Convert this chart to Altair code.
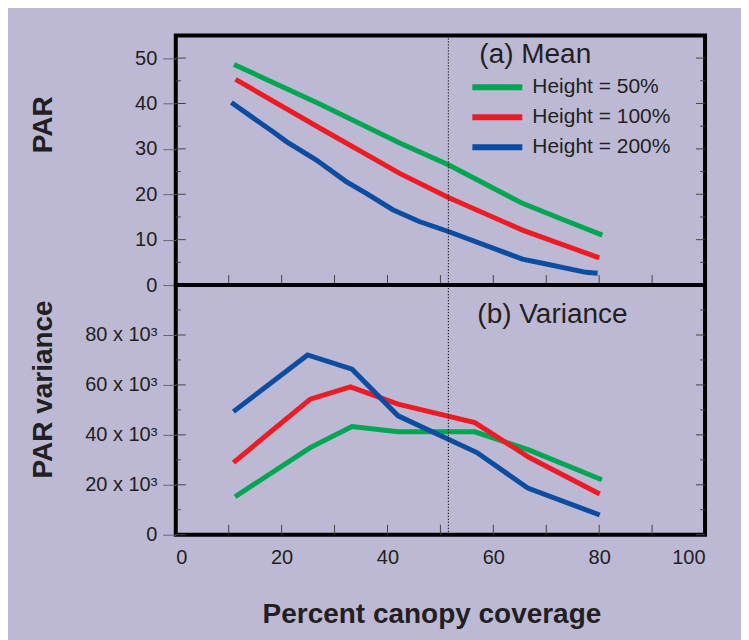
import altair as alt
import pandas as pd

# ---------------- data ----------------
series = ["Height = 50%", "Height = 100%", "Height = 200%"]
colors = ["#00a651", "#ed1c24", "#0d4da1"]

# (a) Mean PAR
mean_x_50 = [11.0, 27.0, 42.3, 51.5, 65.5, 73.0, 80.6]
mean_y_50 = [48.6, 40.0, 31.3, 26.5, 18.0, 14.5, 11.0]
mean_x_100 = [11.3, 27.2, 42.3, 51.5, 65.5, 80.0]
mean_y_100 = [45.3, 34.6, 24.6, 19.3, 12.1, 6.0]
mean_x_200 = [10.5, 18.7, 20.9, 26.5, 32.2, 36.0, 41.0, 46.0, 51.5, 65.5, 69.3, 77.5, 79.7]
mean_y_200 = [40.2, 33.5, 31.6, 27.6, 22.8, 20.2, 16.6, 14.0, 11.8, 5.7, 4.8, 2.8, 2.6]

# (b) Variance of PAR (in thousands)
var_x_50 = [11.2, 25.4, 33.3, 42.0, 56.5, 66.8, 80.5]
var_y_50 = [15.2, 34.9, 43.3, 41.2, 41.2, 33.9, 22.0]
var_x_100 = [10.9, 25.4, 33.0, 42.0, 56.5, 66.8, 80.1]
var_y_100 = [28.9, 54.3, 59.2, 52.3, 44.9, 30.9, 16.3]
var_x_200 = [10.9, 24.9, 33.3, 42.0, 56.9, 66.5, 80.1]
var_y_200 = [49.3, 72.0, 66.3, 47.6, 32.9, 18.7, 7.9]

cutoff_x = [51.5]
x_ticks = [0, 20, 40, 60, 80, 100]
x_minor = [10, 20, 30, 40, 50, 60, 70, 80, 90]
mean_ticks = [0, 10, 20, 30, 40, 50]
mean_minor = [5, 15, 25, 35, 45]
var_ticks = [0, 20, 40, 60, 80]
var_minor = [10, 30, 50, 70, 90]
panel_labels = ["(a) Mean", "(b) Variance"]


def long_df(xs, ys):
    rows = []
    for s, xv, yv in zip(series, xs, ys):
        for a, b in zip(xv, yv):
            rows.append({"series": s, "x": a, "y": b})
    return pd.DataFrame(rows)


df_mean = long_df([mean_x_50, mean_x_100, mean_x_200], [mean_y_50, mean_y_100, mean_y_200])
df_var = long_df([var_x_50, var_x_100, var_x_200], [var_y_50, var_y_100, var_y_200])

W, H = 530, 250
FONT = "Liberation Sans"
TXT = "#231f20"

xscale = alt.Scale(domain=[0, 100], nice=False, zero=False)
cscale = alt.Scale(domain=series, range=colors)


def inner_ticks(yvals, yscale, major_len, side_len):
    d = pd.DataFrame({"v": yvals})
    left = alt.Chart(d).mark_rule(color="#444", strokeWidth=1).encode(
        y=alt.Y("v:Q", scale=yscale), x=alt.value(0), x2=alt.value(major_len))
    right = alt.Chart(d).mark_rule(color="#444", strokeWidth=1).encode(
        y=alt.Y("v:Q", scale=yscale), x=alt.value(W), x2=alt.value(W - side_len))
    return [left, right]


def x_inner_ticks():
    d = pd.DataFrame({"v": x_minor})
    return alt.Chart(d).mark_rule(color="#444", strokeWidth=1).encode(
        x=alt.X("v:Q", scale=xscale), y=alt.value(H), y2=alt.value(H - 10))


def cutoff():
    return alt.Chart(pd.DataFrame({"x": cutoff_x})).mark_rule(
        color="black", strokeWidth=1, strokeDash=[1.2, 1.8]).encode(x=alt.X("x:Q", scale=xscale))


def panel_text(i, xpos, ypos):
    return alt.Chart(pd.DataFrame({"t": [panel_labels[i]]})).mark_text(
        align="left", baseline="middle", fontSize=28, font=FONT, color=TXT).encode(
        x=alt.value(xpos), y=alt.value(ypos), text="t:N")


# ---------------- top panel ----------------
ys_top = alt.Scale(domain=[0, 55], nice=False)
top_lines = alt.Chart(df_mean).mark_line(strokeWidth=5).encode(
    x=alt.X("x:Q", scale=xscale, axis=None),
    y=alt.Y("y:Q", scale=ys_top, axis=alt.Axis(
        values=mean_ticks, tickSize=13, grid=False, domain=False, title="PAR",
        titleX=-132, titleY=89, titleAngle=-90, titleAlign="center", titleBaseline="middle")),
    color=alt.Color("series:N", scale=cscale, sort=series, legend=alt.Legend(
        title=None, orient="none", legendX=294, legendY=39,
        symbolType="M-1,0H4", symbolSize=400, symbolStrokeWidth=6,
        labelFontSize=21, labelFont=FONT, labelColor=TXT, labelOffset=37,
        rowPadding=5, labelLimit=300)),
)
top = alt.layer(
    top_lines, *inner_ticks(mean_ticks, ys_top, 10, 9), *inner_ticks(mean_minor, ys_top, 5, 5),
    x_inner_ticks(), cutoff(), panel_text(0, 304, 20)
).properties(width=W, height=H)

# ---------------- bottom panel ----------------
ys_bot = alt.Scale(domain=[0, 100], nice=False)
bot_lines = alt.Chart(df_var).mark_line(strokeWidth=5).encode(
    x=alt.X("x:Q", scale=xscale, axis=alt.Axis(
        values=x_ticks, ticks=False, domain=False, grid=False, labelPadding=13,
        title="Percent canopy coverage", titleX=256, titleY=88, titleBaseline="alphabetic",
        titleAlign="center")),
    y=alt.Y("y:Q", scale=ys_bot, axis=alt.Axis(
        values=var_ticks, tickSize=13, grid=False, domain=False, title="PAR variance",
        labelExpr="datum.value == 0 ? '0' : datum.value + ' x 10³'",
        titleX=-132, titleY=104, titleAngle=-90, titleAlign="center", titleBaseline="middle")),
    color=alt.Color("series:N", scale=cscale, sort=series, legend=None),
)
bottom = alt.layer(
    bot_lines, *inner_ticks(var_ticks, ys_bot, 10, 9), *inner_ticks(var_minor, ys_bot, 5, 5),
    x_inner_ticks(), cutoff(), panel_text(1, 302, 30)
).properties(width=W, height=H)

chart = alt.vconcat(top, bottom, spacing=0, bounds="flush").resolve_scale(color="independent").properties(
    padding={"left": 20, "top": 24, "right": 33, "bottom": 10},
    background="#bdb9d5",
).configure_view(stroke="black", strokeWidth=4).configure_axis(
    labelFont=FONT, labelFontSize=20, labelColor=TXT, labelPadding=6,
    tickColor="#666", tickWidth=1,
    titleFont=FONT, titleFontSize=28, titleFontWeight="bold", titleColor=TXT,
)

chart.save("out.html", embed_options={"renderer": "svg", "actions": False})
